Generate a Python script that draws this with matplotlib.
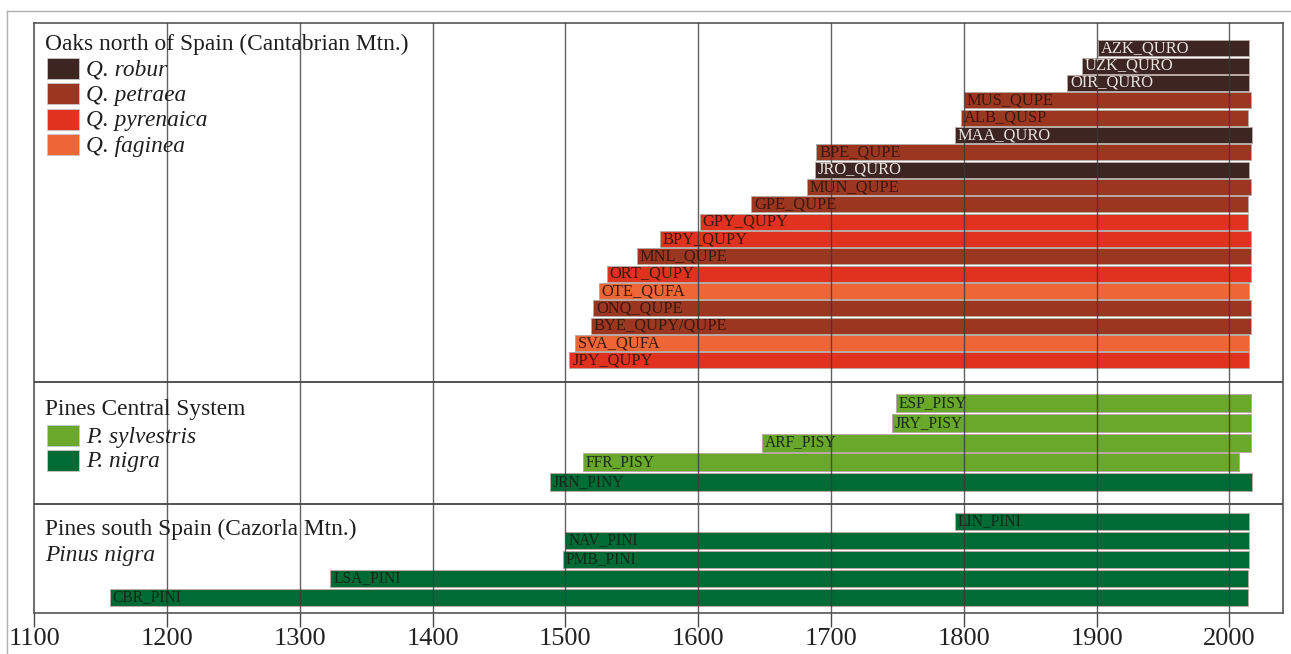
import matplotlib
matplotlib.use('Agg')
import matplotlib.pyplot as plt
from matplotlib.patches import Rectangle
from matplotlib.lines import Line2D

plt.rcParams['font.family'] = ['Liberation Serif', 'DejaVu Serif']

# Oaks north of Spain, top to bottom
oak_sites = ['AZK_QURO', 'UZK_QURO', 'OIR_QURO', 'MUS_QUPE', 'ALB_QUSP', 'MAA_QURO',
             'BPE_QUPE', 'JRO_QURO', 'MUN_QUPE', 'GPE_QUPE', 'GPY_QUPY', 'BPY_QUPY',
             'MNL_QUPE', 'ORT_QUPY', 'OTE_QUFA', 'ONQ_QUPE', 'BYE_QUPY/QUPE',
             'SVA_QUFA', 'JPY_QUPY']
oak_start = [1901, 1889, 1878, 1800, 1798, 1793, 1689, 1688, 1682, 1640,
             1601, 1571, 1554, 1531, 1525, 1521, 1519, 1507, 1503]
oak_end = [2015, 2015, 2015, 2016, 2014, 2017, 2016, 2015, 2016, 2014,
           2014, 2016, 2016, 2016, 2015, 2016, 2016, 2015, 2015]
oak_species = ['robur', 'robur', 'robur', 'petraea', 'petraea', 'robur',
               'petraea', 'robur', 'petraea', 'petraea', 'pyrenaica', 'pyrenaica',
               'petraea', 'pyrenaica', 'faginea', 'petraea', 'petraea',
               'faginea', 'pyrenaica']

# Pines Central System
central_sites = ['ESP_PISY', 'JRY_PISY', 'ARF_PISY', 'FFR_PISY', 'JRN_PINY']
central_start = [1749, 1746, 1648, 1513, 1488]
central_end = [2016, 2016, 2016, 2007, 2017]
central_species = ['sylvestris', 'sylvestris', 'sylvestris', 'sylvestris', 'nigra']

# Pines south Spain
south_sites = ['LIN_PINI', 'NAV_PINI', 'PMB_PINI', 'LSA_PINI', 'CBR_PINI']
south_start = [1793, 1500, 1498, 1323, 1157]
south_end = [2015, 2015, 2015, 2014, 2014]

years = list(range(1100, 2001, 100))

colors = {'robur': '#3d2622', 'petraea': '#9b3620', 'pyrenaica': '#e1321f',
          'faginea': '#ef6636', 'sylvestris': '#69a82b', 'nigra': '#006b34'}
text_colors = {'robur': '#ece4e0', 'petraea': '#3a1810', 'pyrenaica': '#3a1810',
               'faginea': '#3a1810', 'sylvestris': '#1a2c12', 'nigra': '#10281a'}

W, H = 1291, 654
fig = plt.figure(figsize=(W / 100, H / 100), dpi=100)
ax_top, ax_bot, ax_l, ax_r = 23.3, 612.7, 34.3, 1282.5
ax = fig.add_axes([ax_l / W, 1 - ax_bot / H, (ax_r - ax_l) / W, (ax_bot - ax_top) / H])
ax.set_xlim(1100, 2040)
ax.set_ylim(ax_bot, ax_top)  # y in pixel rows from the top of the image


def draw_rows(sites, start, end, species, y0, step, h, fs):
    for i, (s, a, b, sp) in enumerate(zip(sites, start, end, species)):
        y = y0 + i * step
        ax.barh(y, b - a, left=a, height=h, color=colors[sp],
                edgecolor='#b8a8a4', linewidth=0.7, zorder=2)
        ax.annotate(s, (a, y), xytext=(2, 0), textcoords='offset points',
                    ha='left', va='center', fontsize=fs,
                    color=text_colors[sp], zorder=4)


draw_rows(oak_sites, oak_start, oak_end, oak_species, 48.3, 17.34, 16.0, 11.9)
draw_rows(central_sites, central_start, central_end, central_species, 403.3, 19.6, 18.0, 11.2)
draw_rows(south_sites, south_start, south_end, ['nigra'] * len(south_sites),
          521.4, 19.0, 17.0, 11.2)

# grid and section dividers
for yr in years[1:]:
    ax.axvline(yr, color='#3a3a3a', lw=1.0, alpha=0.8, zorder=3)
for yd in (382, 504):
    ax.axhline(yd, color='#444444', lw=1.3, zorder=3)

ax.set_xticks(years)
ax.set_xticklabels([str(y) for y in years], fontsize=19, color='#222222')
ax.tick_params(axis='x', direction='out', length=10, width=1.0, color='#4a4a4a', pad=1)
ax.set_yticks([])
for sp in ax.spines.values():
    sp.set_color('#555555')
    sp.set_linewidth(1.2)


def fx(x):
    return x / W


def fy(y):
    return 1 - y / H


# section headers and legends
hdr = dict(fontsize=16.8, color='#1e1e1e', transform=fig.transFigure, ha='left', va='baseline')
fig.text(fx(45), fy(50), 'Oaks north of Spain (Cantabrian Mtn.)', **hdr)
fig.text(fx(45), fy(415.5), 'Pines Central System', **hdr)
fig.text(fx(45), fy(535.5), 'Pines south Spain (Cazorla Mtn.)', **hdr)
fig.text(fx(45), fy(561), 'Pinus nigra', style='italic', **hdr)

oak_legend = [('robur', 'Q. robur'), ('petraea', 'Q. petraea'),
              ('pyrenaica', 'Q. pyrenaica'), ('faginea', 'Q. faginea')]
pine_legend = [('sylvestris', 'P. sylvestris'), ('nigra', 'P. nigra')]


def legend_block(items, top, step):
    for i, (sp, name) in enumerate(items):
        t = top + i * step
        fig.add_artist(Rectangle((fx(47), fy(t + 21)), 32 / W, 21 / H,
                                 transform=fig.transFigure, facecolor=colors[sp],
                                 edgecolor='#c8c8c8', linewidth=0.6))
        fig.text(fx(86), fy(t + 10.5 + 7), name, style='italic', **hdr)


legend_block(oak_legend, 58, 25.4)
legend_block(pine_legend, 425, 25.0)

# light outer frame
fig.add_artist(Line2D([fx(7), fx(7)], [fy(11), 0], color='#b0b0b0', lw=1.0,
                      transform=fig.transFigure))
fig.add_artist(Line2D([fx(7), 1], [fy(11), fy(11)], color='#b0b0b0', lw=1.0,
                      transform=fig.transFigure))

fig.savefig('out.png', dpi=100, facecolor='white')
